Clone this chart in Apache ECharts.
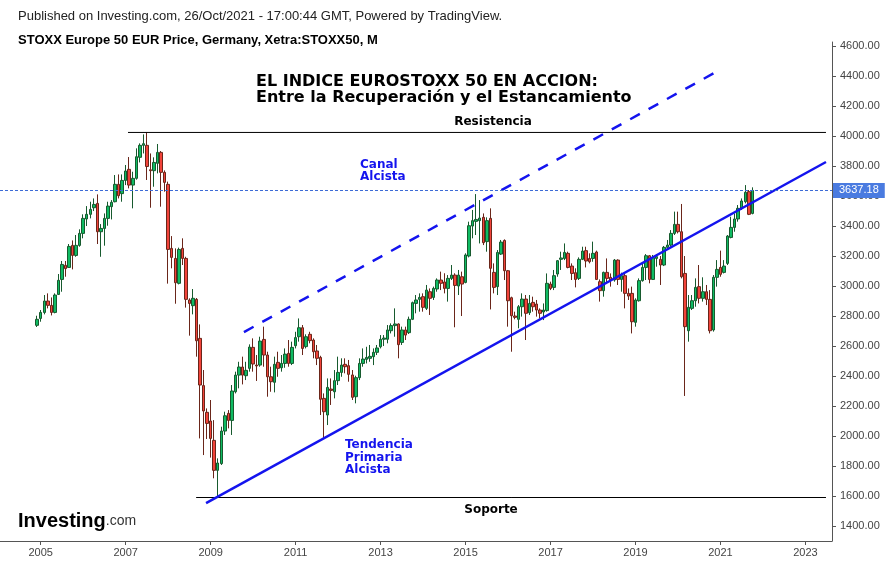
<!DOCTYPE html>
<html>
<head>
<meta charset="utf-8">
<script src="https://cdn.jsdelivr.net/npm/echarts/dist/echarts.min.js"></script>
<style>html,body{margin:0;padding:0;background:#fff}#c{width:890px;height:566px}</style>
</head>
<body>
<div id="c"></div>
<script>
// ---- Monthly candles [open, high, low, close], first candle = 2004-12 ----
const firstCandle = '2004-12';
const ohlc2004 = [[2738,2802,2727,2778]];
const ohlc2005 = [[2784,2840,2762,2824],[2824,2940,2811,2900],[2900,2951,2851,2871],[2871,2924,2804,2824],[2824,2951,2818,2940],[2944,3080,2940,3038],[3044,3167,2962,3144],[3138,3167,3062,3116],[3124,3280,3122,3264],[3271,3304,3111,3204],[3204,3340,3195,3271],[3271,3378,3262,3351]];
const ohlc2006 = [[3351,3478,3318,3451],[3447,3533,3400,3478],[3478,3562,3451,3511],[3522,3584,3500,3544],[3551,3611,3280,3362],[3362,3413,3195,3384],[3384,3484,3269,3451],[3451,3562,3402,3533],[3529,3573,3444,3558],[3562,3740,3558,3678],[3678,3744,3584,3602],[3616,3744,3562,3704]];
const ohlc2007 = [[3704,3807,3673,3767],[3778,3860,3651,3673],[3673,3762,3518,3718],[3718,3918,3709,3862],[3858,3951,3824,3938],[3938,4011,3884,3949],[3938,4024,3707,3797],[3775,3884,3522,3769],[3769,3858,3662,3824],[3818,3947,3751,3891],[3891,3900,3529,3758],[3758,3771,3629,3691]];
const ohlc2008 = [[3678,3696,3016,3244],[3251,3333,3118,3191],[3184,3251,2882,3022],[3018,3256,3011,3244],[3251,3318,3140,3184],[3184,3195,2856,2911],[2907,2918,2669,2884],[2869,2980,2811,2918],[2911,2920,2529,2635],[2651,2744,1984,2340],[2336,2440,1873,2167],[2158,2184,1980,2084]];
const ohlc2009 = [[2100,2240,1856,1984],[1971,2106,1718,1771],[1771,1851,1593,1820],[1816,2062,1807,2033],[2033,2162,2007,2135],[2151,2173,2051,2104],[2104,2340,2007,2300],[2295,2429,2284,2406],[2406,2495,2318,2460],[2460,2529,2344,2406],[2402,2495,2373,2438],[2451,2611,2429,2593]];
const ohlc2010 = [[2591,2651,2429,2480],[2473,2540,2367,2467],[2473,2662,2462,2633],[2644,2729,2462,2540],[2540,2562,2262,2395],[2395,2462,2295,2362],[2358,2529,2291,2478],[2491,2562,2395,2451],[2455,2540,2429,2484],[2484,2584,2455,2546],[2551,2640,2462,2484],[2484,2629,2473,2591]];
const ohlc2011 = [[2602,2695,2584,2656],[2662,2784,2629,2722],[2722,2740,2540,2584],[2596,2678,2584,2662],[2678,2695,2618,2636],[2640,2651,2518,2562],[2567,2607,2473,2518],[2524,2535,2140,2245],[2251,2284,1984,2162],[2140,2384,2073,2324],[2313,2384,2207,2304],[2295,2440,2251,2369]];
const ohlc2012 = [[2369,2529,2340,2424],[2424,2518,2395,2473],[2478,2518,2418,2462],[2469,2507,2362,2411],[2407,2440,2240,2258],[2262,2402,2218,2389],[2389,2518,2373,2484],[2484,2584,2462,2513],[2511,2595,2484,2524],[2518,2607,2495,2531],[2529,2584,2473,2558],[2558,2607,2540,2587]];
const ohlc2013 = [[2595,2673,2584,2645],[2645,2673,2600,2653],[2645,2740,2618,2707],[2702,2751,2684,2736],[2736,2851,2662,2747],[2747,2751,2518,2609],[2624,2729,2607,2707],[2707,2729,2640,2673],[2689,2796,2680,2778],[2778,2896,2773,2889],[2884,2940,2818,2907],[2911,2951,2829,2924]];
const ohlc2014 = [[2929,2951,2829,2858],[2851,3007,2840,2973],[2962,2984,2807,2918],[2924,2996,2907,2984],[2980,3051,2962,3040],[3040,3096,2973,3018],[3027,3085,2951,2984],[2984,3073,2896,3051],[3051,3140,3040,3073],[3073,3085,2725,3004],[3000,3107,2940,3073],[3062,3096,2800,3013]];
const ohlc2015 = [[3024,3218,3018,3207],[3200,3429,3191,3402],[3400,3507,3318,3436],[3431,3613,3340,3444],[3436,3573,3284,3453],[3458,3484,3273,3289],[3296,3458,3229,3436],[3451,3518,2844,3118],[3091,3151,2951,2991],[2996,3240,2940,3224],[3213,3307,3207,3293],[3304,3311,3040,3102]];
const ohlc2016 = [[3102,3107,2729,2902],[2922,2929,2562,2802],[2800,2829,2778,2791],[2778,2873,2718,2862],[2862,2951,2796,2913],[2913,2940,2640,2818],[2822,2940,2807,2884],[2891,2929,2829,2862],[2880,2907,2796,2840],[2840,2851,2784,2818],[2827,2884,2773,2840],[2836,3084,2829,3018]];
const ohlc2017 = [[3013,3029,2973,2984],[2991,3107,2973,3069],[3080,3173,3062,3169],[3178,3229,3107,3187],[3184,3284,3173,3224],[3218,3229,3118,3124],[3133,3151,3040,3084],[3089,3118,2991,3044],[3051,3191,3040,3178],[3178,3262,3173,3233],[3236,3262,3124,3167],[3184,3218,3151,3162]];
const ohlc2018 = [[3184,3296,3162,3218],[3227,3236,3040,3044],[3029,3044,2896,2969],[2969,3096,2929,3091],[3091,3184,3018,3051],[3058,3084,2996,3040],[3040,3180,3029,3173],[3173,3178,3007,3044],[3044,3089,2962,3069],[3069,3084,2851,2951],[2951,2984,2907,2933],[2951,2996,2684,2762]];
const ohlc2019 = [[2758,2918,2729,2907],[2902,3051,2896,3036],[3036,3151,3029,3124],[3124,3213,3040,3202],[3202,3207,3018,3044],[3044,3207,3040,3189],[3184,3213,3129,3196],[3178,3200,3007,3140],[3140,3267,3133,3258],[3258,3307,3240,3273],[3273,3373,3262,3351],[3351,3496,3340,3411]];
const ohlc2020 = [[3411,3496,3351,3362],[3362,3547,3051,3062],[3084,3200,2267,2729],[2702,2940,2629,2858],[2851,2940,2840,2902],[2902,3051,2862,2991],[2996,3140,2884,2918],[2918,3058,2896,2962],[2962,3007,2873,2911],[2911,2973,2684,2702],[2707,3073,2696,3058],[3058,3173,2996,3111]];
const ohlc2021 = [[3124,3236,3062,3078],[3091,3173,3084,3133],[3151,3340,3140,3333],[3324,3462,3318,3391],[3391,3484,3362,3447],[3447,3540,3429,3518],[3518,3584,3507,3567],[3562,3673,3551,3625],[3629,3640,3473,3478],[3484,3658,3478,3637.18]];

// ---- Axis ----
const axisFirstMonth = [2004, 2];
const axisLastMonth = [2023, 8];
const yTicks = [1400,1600,1800,2000,2200,2400,2600,2800,3000,3200,3400,3600,3800,4000,4200,4400,4600];
const yMin = 1300, yMax = 4627;
const lastPrice = 3637.18;

// ---- Drawn lines: [month position (index on axis), price] ----
const resistanceLine = [[35.65, 4024], [232.8, 4024]];
const supportLine = [[54.9, 1590], [232.8, 1590]];
const primaryTrend = [[57.7, 1553], [232.8, 3827]];
const channelTop = [[68.4, 2693], [201.2, 4420]];

// ---- build ----
const months = [];
{
  let y = axisFirstMonth[0], m = axisFirstMonth[1];
  while (y < axisLastMonth[0] || (y === axisLastMonth[0] && m <= axisLastMonth[1])) {
    months.push(y + '-' + String(m).padStart(2, '0'));
    m++; if (m > 12) { m = 1; y++; }
  }
}
const allOhlc = [].concat(ohlc2004, ohlc2005, ohlc2006, ohlc2007, ohlc2008, ohlc2009, ohlc2010, ohlc2011, ohlc2012, ohlc2013, ohlc2014, ohlc2015, ohlc2016, ohlc2017, ohlc2018, ohlc2019, ohlc2020, ohlc2021);
const startIdx = months.indexOf(firstCandle);
const candleData = months.map((mth, i) => {
  const r = allOhlc[i - startIdx];
  return r ? [r[0], r[3], r[2], r[1]] : '-';
});
const isYearTick = (idx, val) => val.endsWith('-01') && (+val.slice(0, 4)) % 2 === 1;

const BLUE = '#1414ee';
const chart = echarts.init(document.getElementById('c'), null, {renderer: 'canvas'});
const lineSeries = (data, style) => ({
  type: 'line', xAxisIndex: 1, yAxisIndex: 0, data, symbol: 'none', silent: true,
  animation: false, lineStyle: style, z: 4
});
chart.setOption({
  animation: false,
  backgroundColor: '#fff',
  grid: {left: 0, right: 58, top: 42, bottom: 25},
  xAxis: [{
    type: 'category', data: months, boundaryGap: true,
    axisLine: {show: true, onZero: false, lineStyle: {color: '#555', width: 1}},
    axisTick: {show: true, alignWithLabel: true, interval: isYearTick, length: 4, lineStyle: {color: '#555'}},
    axisLabel: {interval: isYearTick, formatter: v => v.slice(0, 4), color: '#444', fontSize: 11, fontFamily: 'Liberation Sans', margin: 6},
    splitLine: {show: false}
  }, {
    type: 'value', min: -0.5, max: months.length - 0.5, show: false,
    axisLine: {onZero: false}
  }],
  yAxis: [{
    type: 'value', position: 'right', min: yMin, max: yMax,
    axisLine: {show: true, onZero: false, lineStyle: {color: '#555', width: 1}},
    axisTick: {show: true, length: 4, customValues: yTicks, lineStyle: {color: '#555'}},
    axisLabel: {customValues: yTicks, formatter: v => v.toFixed(2), color: '#444', fontSize: 11, fontFamily: 'Liberation Sans', margin: 8},
    splitLine: {show: false}
  }],
  series: [{
    type: 'candlestick', xAxisIndex: 0, yAxisIndex: 0, data: candleData,
    barWidth: 3,
    itemStyle: {color: '#0fbb63', color0: '#f2433a', borderColor: '#175a2e', borderColor0: '#6a261a', borderColorDoji: '#175a2e', borderWidth: 1},
    z: 2,
    markLine: {
      symbol: ['none', 'none'], silent: true, animation: false,
      lineStyle: {color: '#3d6bd6', type: [3, 2], width: 1},
      label: {position: 'end', formatter: lastPrice.toFixed(2), color: '#fff', backgroundColor: '#4a7be0', padding: [2, 6, 2, 6], fontSize: 11, fontFamily: 'Liberation Sans', distance: 1},
      data: [{yAxis: lastPrice}]
    }
  },
  lineSeries(resistanceLine, {color: '#000', width: 1}),
  lineSeries(supportLine, {color: '#000', width: 1}),
  lineSeries(primaryTrend, {color: BLUE, width: 2.5}),
  lineSeries(channelTop, {color: BLUE, width: 2.5, type: [11, 10]})
  ],
  graphic: [
    {type: 'text', x: 18, y: 16, style: {text: 'Published on Investing.com, 26/Oct/2021 - 17:00:44 GMT, Powered by TradingView.', font: '13px "Liberation Sans"', fill: '#222', verticalAlign: 'middle'}},
    {type: 'text', x: 18, y: 40, style: {text: 'STOXX Europe 50 EUR Price, Germany, Xetra:STOXX50, M', font: 'bold 13px "Liberation Sans"', fill: '#000', verticalAlign: 'middle'}},
    {type: 'text', x: 256, y: 82, style: {text: 'EL INDICE EUROSTOXX 50 EN ACCION:', font: 'bold 16px "DejaVu Sans"', fill: '#000', verticalAlign: 'middle'}},
    {type: 'text', x: 256, y: 98, style: {text: 'Entre la Recuperación y el Estancamiento', font: 'bold 16px "DejaVu Sans"', fill: '#000', verticalAlign: 'middle'}},
    {type: 'text', x: 493, y: 122, style: {text: 'Resistencia', font: 'bold 12px "DejaVu Sans"', fill: '#000', align: 'center', verticalAlign: 'middle'}},
    {type: 'text', x: 491, y: 510, style: {text: 'Soporte', font: 'bold 12px "DejaVu Sans"', fill: '#000', align: 'center', verticalAlign: 'middle'}},
    {type: 'text', x: 360, y: 165, style: {text: 'Canal', font: 'bold 12px "DejaVu Sans"', fill: BLUE, verticalAlign: 'middle'}},
    {type: 'text', x: 360, y: 177, style: {text: 'Alcista', font: 'bold 12px "DejaVu Sans"', fill: BLUE, verticalAlign: 'middle'}},
    {type: 'text', x: 345, y: 445, style: {text: 'Tendencia', font: 'bold 12px "DejaVu Sans"', fill: BLUE, verticalAlign: 'middle'}},
    {type: 'text', x: 345, y: 458, style: {text: 'Primaria', font: 'bold 12px "DejaVu Sans"', fill: BLUE, verticalAlign: 'middle'}},
    {type: 'text', x: 345, y: 470, style: {text: 'Alcista', font: 'bold 12px "DejaVu Sans"', fill: BLUE, verticalAlign: 'middle'}},
    {type: 'text', x: 18, y: 531, style: {
      text: '{a|Investing}{b|.com}', verticalAlign: 'bottom',
      rich: {a: {font: 'bold 20px "Liberation Sans"', fill: '#000'}, b: {font: '14px "Liberation Sans"', fill: '#333'}}
    }}
  ]
});
</script>
</body>
</html>
